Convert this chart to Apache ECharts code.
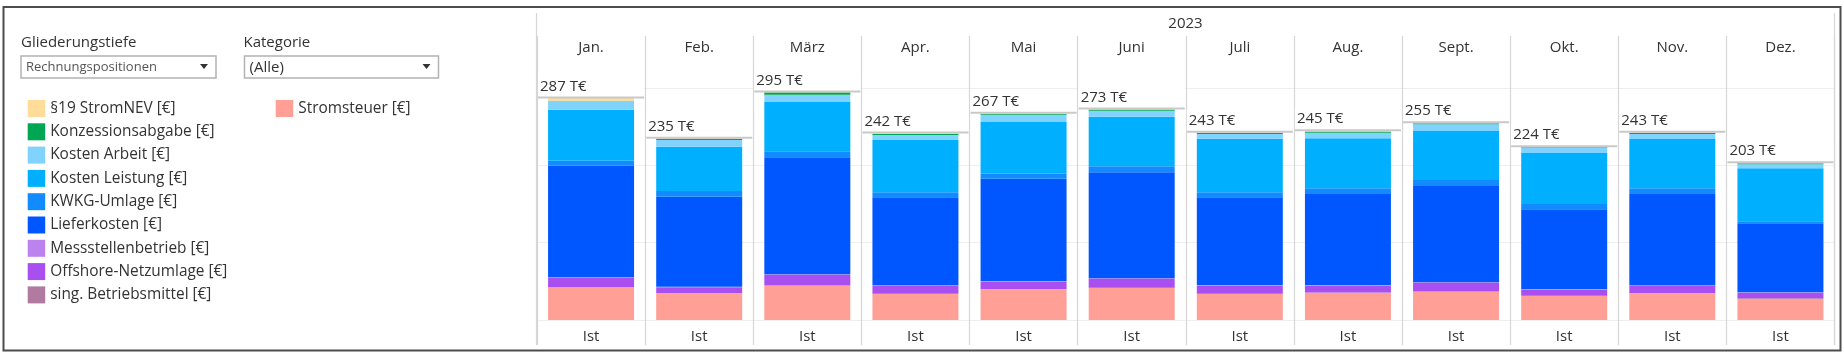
<!DOCTYPE html>
<html>
<head>
<meta charset="utf-8">
<title>Rechnungspositionen 2023</title>
<script src="https://cdn.jsdelivr.net/npm/echarts@6/dist/echarts.min.js"></script>
<style>
  html, body { margin: 0; padding: 0; background: #fff; }
  #chart { width: 1844px; height: 352px; }
</style>
</head>
<body>
<div id="chart"></div>
<script>
// values in T€
const months = ['Jan.', 'Feb.', 'März', 'Apr.', 'Mai', 'Juni', 'Juli', 'Aug.', 'Sept.', 'Okt.', 'Nov.', 'Dez.'];
const rowLabel = 'Ist';
const yearLabel = '2023';

const stromsteuer        = [42.2, 34.5, 44.4, 33.6, 39.7, 41.4, 33.6, 35.3, 36.6, 31.0, 34.5, 26.7];
const singBetriebsmittel = [0.3, 0.3, 0.4, 0.5, 0.3, 0.3, 0.4, 0.3, 0.3, 0.3, 0.3, 1.3];
const offshore           = [12.0, 7.7, 13.5, 9.8, 9.7, 11.4, 10.4, 8.9, 11.0, 8.1, 9.2, 7.2];
const messstellen        = [0.7, 0.6, 0.8, 1.4, 0.7, 0.8, 0.9, 0.8, 0.8, 0.7, 0.8, 0.6];
const lieferkosten       = [144.4, 116.4, 151.2, 113.3, 132.4, 137.0, 113.3, 117.6, 124.6, 103.0, 118.1, 89.2];
const kwkg               = [6.4, 7.3, 7.8, 6.5, 6.4, 7.8, 6.5, 7.4, 7.7, 6.9, 7.4, 2.6];
const kostenLeistung     = [65.8, 57.3, 64.6, 67.7, 66.8, 64.2, 69.4, 64.6, 63.4, 66.0, 63.8, 68.5];
const kostenArbeit       = [11.4, 8.7, 8.7, 6.4, 9.5, 7.8, 6.0, 7.3, 8.6, 6.9, 6.4, 5.2];
const konzession         = [0.3, 1.2, 3.0, 1.3, 1.0, 1.4, 1.3, 1.5, 1.3, 0.7, 1.3, 1.3];
const stromNEV           = [3.5, 1.0, 0.4, 1.2, 0.7, 0.7, 0.9, 1.1, 0.9, 0.5, 0.9, 0.8];

const FONT = '"Open Sans", "DejaVu Sans", sans-serif';
const TEXT = '#333333';

// bottom of the stack first
const stack = [
  { name: 'Stromsteuer [€]', data: stromsteuer, color: '#FF9F95' },
  { name: 'sing. Betriebsmittel [€]', data: singBetriebsmittel, color: '#B07AA1' },
  { name: 'Offshore-Netzumlage [€]', data: offshore, color: '#A94FEF' },
  { name: 'Messstellenbetrieb [€]', data: messstellen, color: '#BC82EE' },
  { name: 'Lieferkosten [€]', data: lieferkosten, color: '#0057FF' },
  { name: 'KWKG-Umlage [€]', data: kwkg, color: '#118BFF' },
  { name: 'Kosten Leistung [€]', data: kostenLeistung, color: '#00B0FF' },
  { name: 'Kosten Arbeit [€]', data: kostenArbeit, color: '#80D2FF' },
  { name: 'Konzessionsabgabe [€]', data: konzession, color: '#00A651' },
  { name: '§19 StromNEV [€]', data: stromNEV, color: '#FFDC9A' }
];

const totals = months.map((m, i) => stack.reduce((s, st) => s + st.data[i], 0));

const legendLeft = stack.slice(1).reverse().map(s => s.name);
const legendRight = ['Stromsteuer [€]'];

const chart = echarts.init(document.getElementById('chart'), null, { renderer: 'canvas' });

const legendBase = {
  orient: 'vertical',
  top: 100,
  padding: 0,
  icon: 'rect',
  itemWidth: 17.5,
  itemHeight: 17,
  itemGap: 6.3,
  selectedMode: false,
  textStyle: { fontSize: 15.4, color: TEXT, fontFamily: FONT, lineHeight: 17 }
};

const paneLeft = 537;
const paneRight = 1844 - 1834.5;

const option = {
  animation: false,
  backgroundColor: '#fff',
  textStyle: { fontFamily: FONT },
  legend: [
    Object.assign({}, legendBase, { left: 27.7, data: legendLeft }),
    Object.assign({}, legendBase, { left: 275.7, data: legendRight })
  ],
  grid: [
    { left: paneLeft, right: paneRight, top: 88, bottom: 32 },
    { left: paneLeft, right: paneRight, top: 36, bottom: 7 }
  ],
  xAxis: [
    {
      type: 'category',
      gridIndex: 0,
      data: months,
      axisLine: { show: false },
      axisTick: { show: false },
      splitLine: { show: false },
      axisLabel: {
        formatter: () => rowLabel,
        margin: 9,
        fontSize: 15,
        color: TEXT,
        fontFamily: FONT
      }
    },
    {
      type: 'category',
      gridIndex: 1,
      data: months,
      position: 'top',
      axisLine: { show: false },
      axisTick: { show: false },
      splitLine: { show: true, interval: 0, lineStyle: { color: '#d6d6d6', width: 1.2 } },
      axisLabel: {
        inside: true,
        interval: 0,
        margin: 4,
        fontSize: 15,
        color: TEXT,
        fontFamily: FONT
      }
    }
  ],
  yAxis: [
    {
      type: 'value',
      gridIndex: 0,
      min: 0,
      max: 300,
      interval: 100,
      axisLine: { show: false },
      axisTick: { show: false },
      axisLabel: { show: false },
      splitLine: { show: true, lineStyle: { color: '#efefef', width: 1 } }
    },
    { type: 'value', gridIndex: 1, show: false, splitLine: { show: false } }
  ],
  series: stack.map(s => ({
    name: s.name,
    type: 'bar',
    stack: 'total',
    xAxisIndex: 0,
    yAxisIndex: 0,
    barWidth: 86,
    data: s.data,
    itemStyle: { color: s.color },
    emphasis: { disabled: true }
  })).concat([{
    type: 'custom',
    xAxisIndex: 0,
    yAxisIndex: 0,
    clip: false,
    z: 10,
    data: totals.map((t, i) => [i, t]),
    renderItem: (params, api) => {
      const pt = api.coord([api.value(0), api.value(1)]);
      const bw = api.size([1, 0])[0];
      const left = pt[0] - bw / 2 + 1;
      const y = pt[1] - 0.5;
      return {
        type: 'group',
        children: [
          { type: 'rect', shape: { x: left, y: y - 22, width: bw - 2, height: 22 }, style: { fill: '#ffffff' } },
          { type: 'line', shape: { x1: left, y1: y, x2: left + bw - 2, y2: y }, style: { stroke: '#c9c9c9', lineWidth: 2 } },
          {
            type: 'text',
            style: {
              x: left + 2, y: y - 11,
              text: Math.round(api.value(1)) + ' T€',
              fill: TEXT, font: '15px ' + FONT,
              verticalAlign: 'middle', align: 'left'
            }
          }
        ]
      };
    }
  }]),
  graphic: { elements: [
    // outer frame
    { type: 'rect', shape: { x: 3.5, y: 7, width: 1837, height: 343.5 }, style: { fill: null, stroke: '#4d4d4d', lineWidth: 2 }, silent: true },
    // pane edges
    { type: 'line', shape: { x1: 536.5, y1: 13, x2: 536.5, y2: 345 }, style: { stroke: '#d6d6d6', lineWidth: 1.2 } },
    { type: 'line', shape: { x1: 1834.5, y1: 13, x2: 1834.5, y2: 345 }, style: { stroke: '#d6d6d6', lineWidth: 1.2 } },
    { type: 'text', x: 1185.5, y: 24, style: { text: yearLabel, fill: TEXT, font: '15px ' + FONT, align: 'center', verticalAlign: 'middle' } },
    // filters
    { type: 'text', x: 21, y: 43, style: { text: 'Gliederungstiefe', fill: TEXT, font: '15px ' + FONT, verticalAlign: 'middle' } },
    { type: 'rect', shape: { x: 21, y: 56, width: 195, height: 22 }, style: { fill: '#fff', stroke: '#b3b3b3', lineWidth: 1.5 } },
    { type: 'text', x: 26, y: 67.5, style: { text: 'Rechnungspositionen', fill: '#555', font: '13px ' + FONT, verticalAlign: 'middle' } },
    { type: 'polygon', shape: { points: [[200, 64], [208, 64], [204, 69]] }, style: { fill: '#333' } },
    { type: 'text', x: 243.5, y: 43, style: { text: 'Kategorie', fill: TEXT, font: '15px ' + FONT, verticalAlign: 'middle' } },
    { type: 'rect', shape: { x: 244.5, y: 56, width: 194, height: 22 }, style: { fill: '#fff', stroke: '#b3b3b3', lineWidth: 1.5 } },
    { type: 'text', x: 249.5, y: 67.5, style: { text: '(Alle)', fill: TEXT, font: '15px ' + FONT, verticalAlign: 'middle' } },
    { type: 'polygon', shape: { points: [[422.5, 64], [430.5, 64], [426.5, 69]] }, style: { fill: '#333' } }
  ] }
};

chart.setOption(option);
</script>
</body>
</html>
